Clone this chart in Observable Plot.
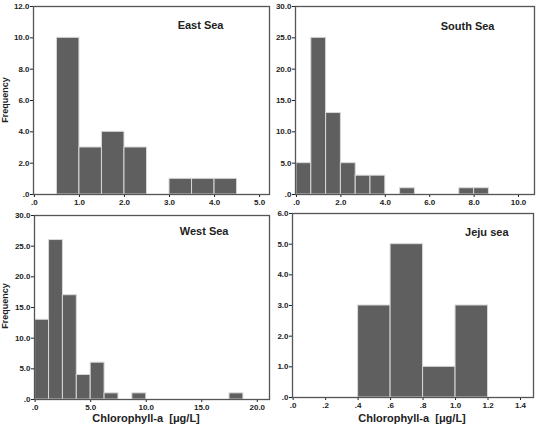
<!DOCTYPE html>
<html>
<head>
<meta charset="utf-8">
<script src="https://cdn.jsdelivr.net/npm/d3@7"></script>
<script src="https://cdn.jsdelivr.net/npm/@observablehq/plot@0.6"></script>
<style>
  html, body { margin: 0; padding: 0; background: #fff; }
  #chart { position: relative; width: 536px; height: 425px; overflow: hidden; font-family: "Liberation Sans", Arial, sans-serif; }
  #chart svg { position: absolute; overflow: visible; }
  .lbl { position: absolute; color: #222; white-space: pre; line-height: 1; }
  .freq { font-size: 9px; font-weight: bold; transform: translate(-50%, -50%) rotate(-90deg); }
  .xlab { font-size: 11px; font-weight: bold; transform: translate(-50%, -50%); }
</style>
</head>
<body>
<div id="chart"></div>
<script>
// ---- data (bin lower edges, bin width, frequency) ----
const eastLo = [0.5, 1.0, 1.5, 2.0, 3.0, 3.5, 4.0];
const eastCount = [10, 3, 4, 3, 1, 1, 1];
const eastWidth = 0.5;

const southLo = [0, 0.667, 1.333, 2.0, 2.667, 3.333, 4.667, 7.333, 8.0];
const southCount = [5, 25, 13, 5, 3, 3, 1, 1, 1];
const southWidth = 0.667;

const westLo = [0, 1.25, 2.5, 3.75, 5.0, 6.25, 8.75, 17.5];
const westCount = [13, 26, 17, 4, 6, 1, 1, 1];
const westWidth = 1.25;

const jejuLo = [0.4, 0.6, 0.8, 1.0];
const jejuCount = [3, 5, 1, 3];
const jejuWidth = 0.2;

const eastXTicks = [0, 1, 2, 3, 4, 5];
const southXTicks = [0, 2, 4, 6, 8, 10];
const westXTicks = [0, 5, 10, 15, 20];
const jejuXTicks = [0, 0.2, 0.4, 0.6, 0.8, 1.0, 1.2, 1.4];
const eastYTicks = [0, 2, 4, 6, 8, 10, 12];
const southYTicks = [0, 5, 10, 15, 20, 25, 30];
const westYTicks = [0, 5, 10, 15, 20, 25, 30];
const jejuYTicks = [0, 1, 2, 3, 4, 5, 6];

const titles = ["East Sea", "South Sea", "West Sea", "Jeju sea"];
const yLabel = "Frequency";
const xLabel = "Chlorophyll-a  [\u03bcg/L]";

// SPSS-style number format: ".0", "2.0", ".2"
const fmt = d => d3.format(".1f")(d).replace(/^0\./, ".");

function bins(lo, count, w) {
  return lo.map((l, i) => ({x1: l, x2: l + w, y: count[i]}));
}

const panels = [
  {data: bins(eastLo, eastCount, eastWidth), xd: [-0.02, 5.22], yd: [0, 12], xt: eastXTicks, yt: eastYTicks,
   left: 0, top: 0, w: 270, h: 215, m: [6, 1, 21, 33], title: titles[0], tdx: -46, tdy: 19},
  {data: bins(southLo, southCount, southWidth), xd: [-0.045, 10.72], yd: [0, 30], xt: southXTicks, yt: southYTicks,
   left: 266, top: 0, w: 270, h: 215, m: [6, 2, 21, 29], title: titles[1], tdx: -40, tdy: 20},
  {data: bins(westLo, westCount, westWidth), xd: [-0.06, 21.1], yd: [0, 30], xt: westXTicks, yt: westYTicks,
   left: 0, top: 200, w: 270, h: 225, m: [15, 1, 26, 34], title: titles[2], tdx: -41, tdy: 16},
  {data: bins(jejuLo, jejuCount, jejuWidth), xd: [-0.004, 1.48], yd: [0, 6], xt: jejuXTicks, yt: jejuYTicks,
   left: 266, top: 200, w: 270, h: 225, m: [13, 3, 28, 26], title: titles[3], tdx: -25, tdy: 19}
];

const chart = document.getElementById("chart");

for (const p of panels) {
  const svg = Plot.plot({
    width: p.w,
    height: p.h,
    marginTop: p.m[0],
    marginRight: p.m[1],
    marginBottom: p.m[2],
    marginLeft: p.m[3],
    style: {fontFamily: "'Liberation Sans', Arial, sans-serif", fontSize: "8px", fontWeight: "bold", color: "#222", background: "transparent"},
    x: {domain: p.xd, ticks: p.xt, tickFormat: fmt, tickSize: 3, tickPadding: 2, label: null},
    y: {domain: p.yd, ticks: p.yt, tickFormat: fmt, tickSize: 3, tickPadding: 1, label: null},
    marks: [
      Plot.rectY(p.data, {x1: "x1", x2: "x2", y: "y", fill: "#5f5f5f", stroke: "#d8d8d8", strokeWidth: 1}),
      Plot.frame({stroke: "#555", strokeWidth: 1.3}),
      Plot.text([p.title], {frameAnchor: "top-right", dx: p.tdx, dy: p.tdy, text: d => d, textAnchor: "end",
        fontSize: 11, fontWeight: "bold", fill: "#222", lineAnchor: "middle"})
    ]
  });
  svg.style.left = p.left + "px";
  svg.style.top = p.top + "px";
  chart.appendChild(svg);
}

function addLabel(cls, text, x, y) {
  const d = document.createElement("div");
  d.className = "lbl " + cls;
  d.textContent = text;
  d.style.left = x + "px";
  d.style.top = y + "px";
  chart.appendChild(d);
}
addLabel("freq", yLabel, 5, 100);
addLabel("freq", yLabel, 5, 306);
addLabel("xlab", xLabel, 146, 418);
addLabel("xlab", xLabel, 412, 418);
</script>
</body>
</html>
